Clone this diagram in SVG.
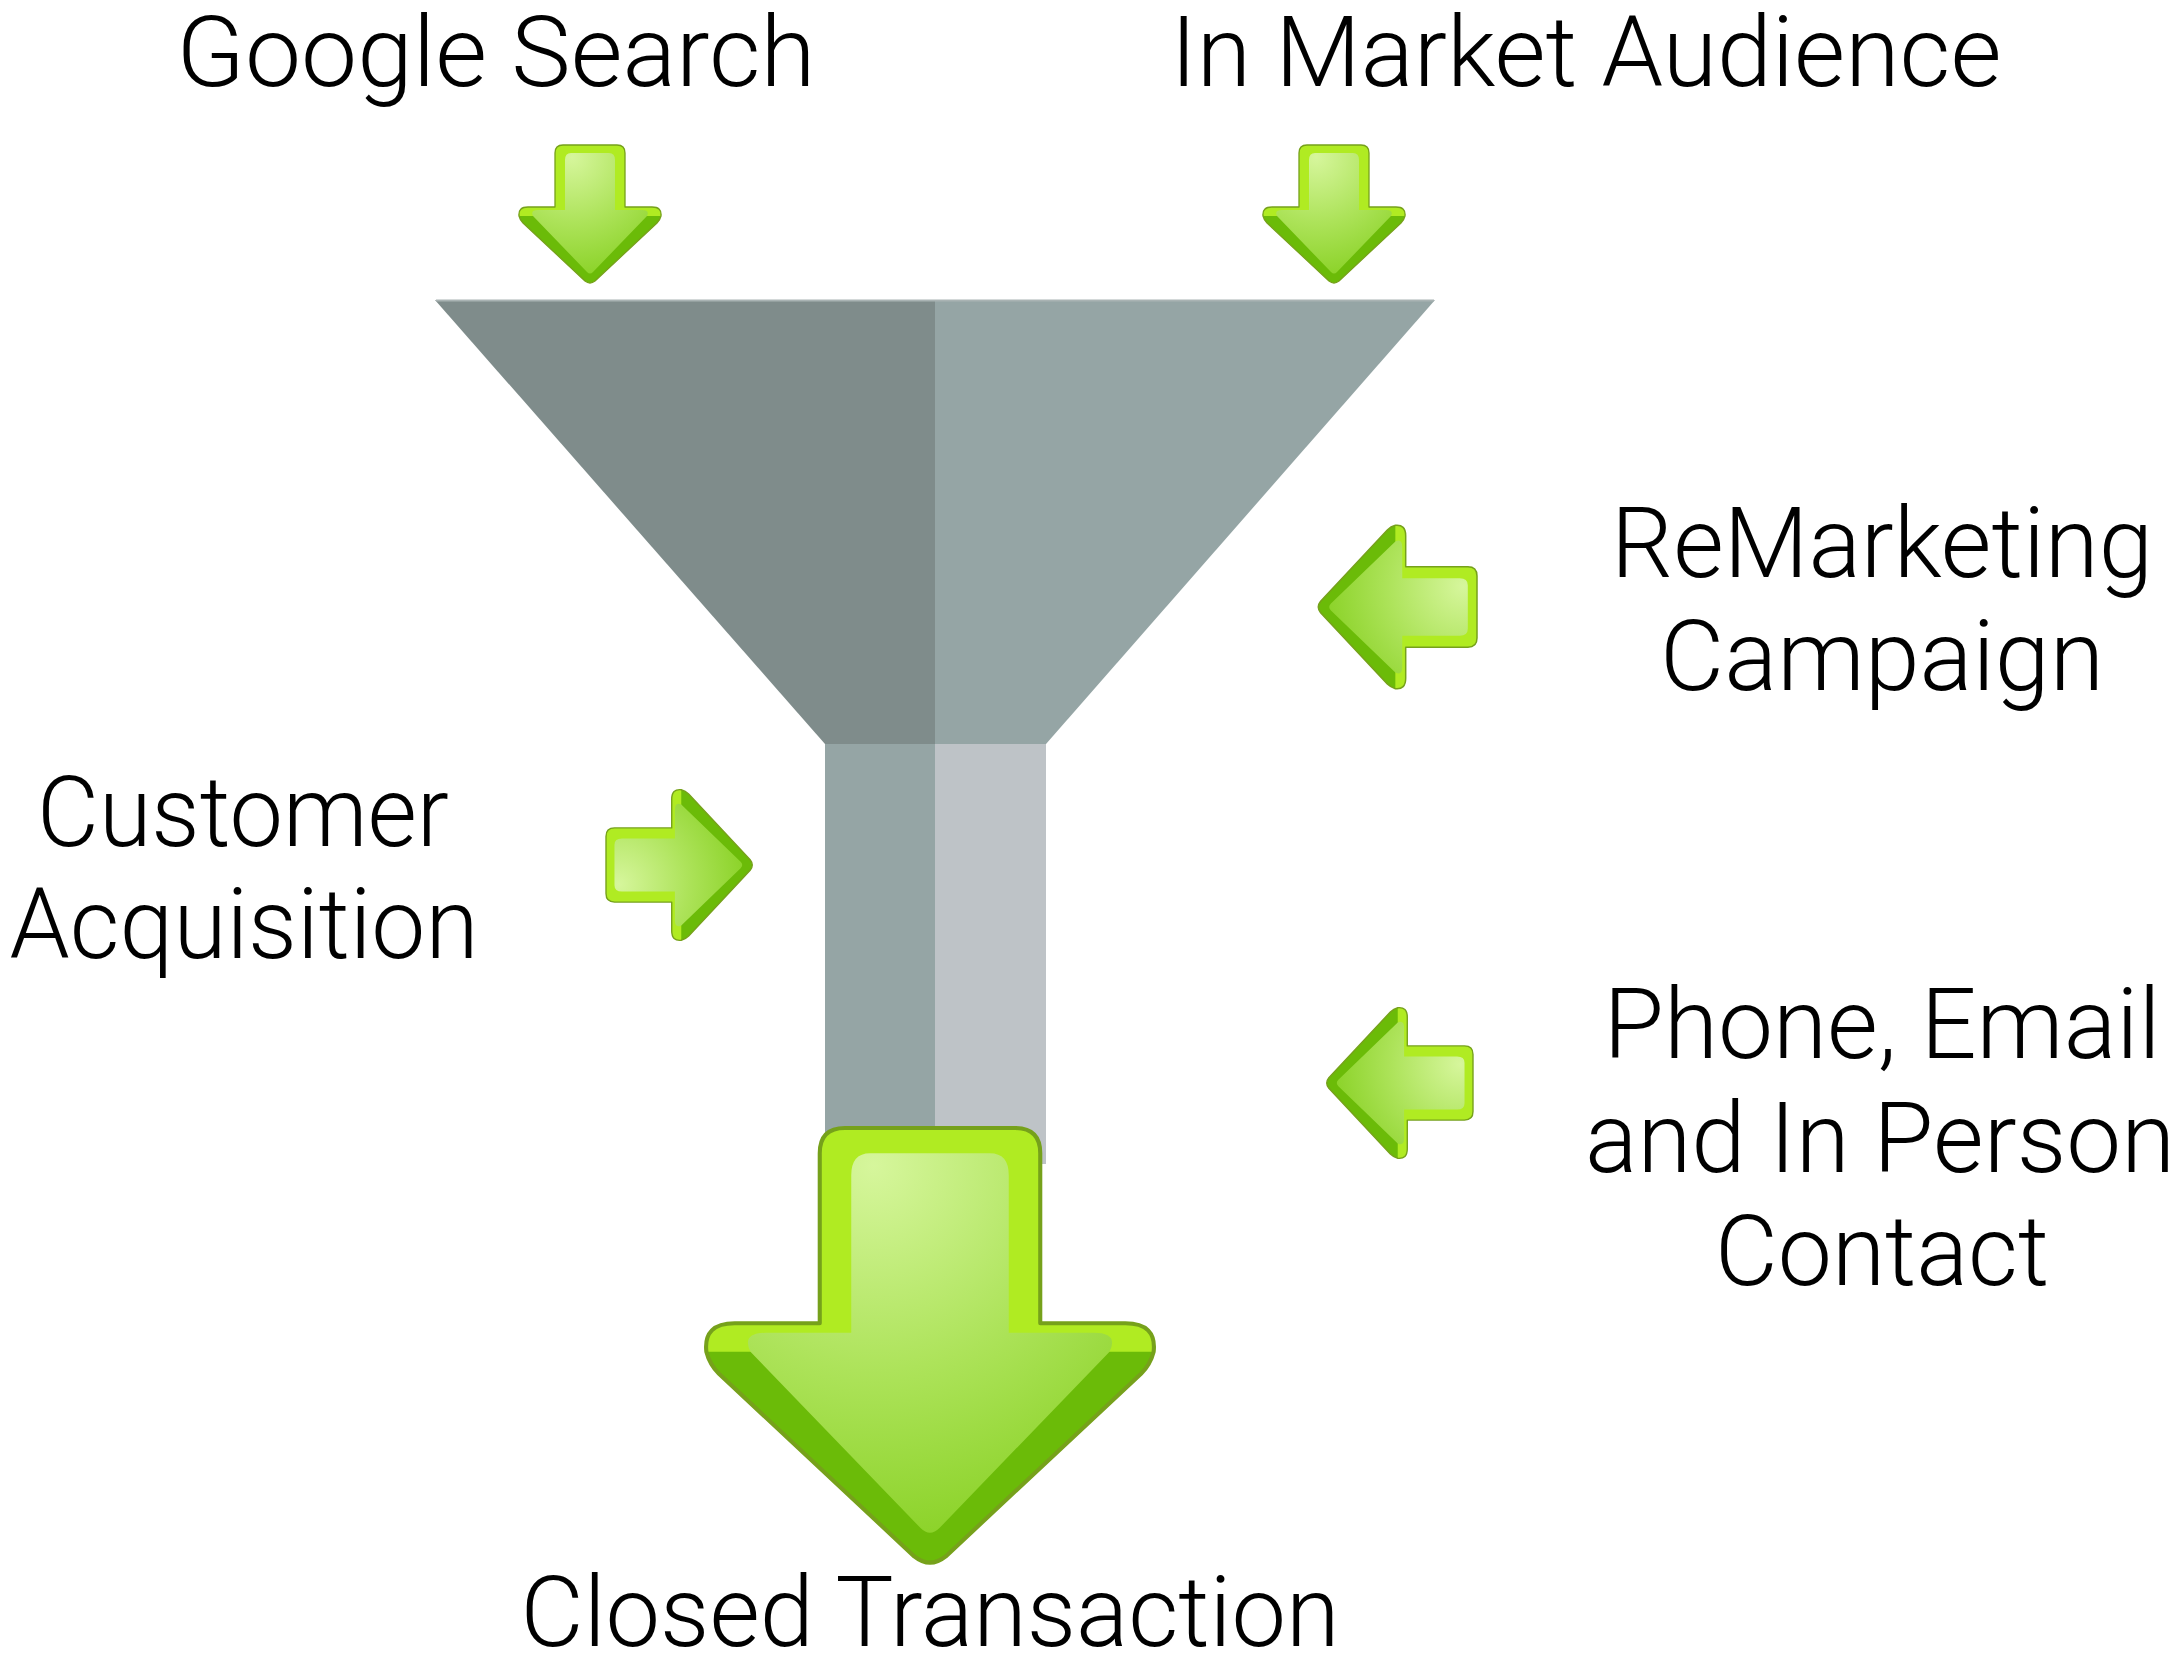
<svg xmlns="http://www.w3.org/2000/svg" xmlns:xlink="http://www.w3.org/1999/xlink" width="2178" height="1660" viewBox="0 0 2178 1660">
<style>
  .lbl { font-family: Roboto, "Liberation Sans", Arial, sans-serif; font-weight: 300; font-size: 98px; fill: #000; text-anchor: middle; }
  .outer-fill { fill: #6bbb08; }
  .lime { fill: #b0eb22; }
  .outer-line { fill: none; stroke: #76a11b; stroke-width: 1.3; stroke-linejoin: round; }
</style>
<defs>
  <radialGradient id="glow" gradientUnits="userSpaceOnUse" cx="-18" cy="12" r="145">
    <stop offset="0" stop-color="#d6f69c"/>
    <stop offset="0.45" stop-color="#ade35a"/>
    <stop offset="1" stop-color="#7ccb12"/>
  </radialGradient>
  <g id="arrowDown">
    <path class="outer-fill" d="M -27,0 H 27 Q 35,0 35,8 V 62 H 62 Q 72,62 71,71 Q 70,75 67,78 L 5,136 Q 0,140 -5,136 L -67,78 Q -70,75 -71,71 Q -72,62 -62,62 H -35 V 8 Q -35,0 -27,0 Z"/>
    <path class="lime" d="M -27,0 H 27 Q 35,0 35,8 V 62 H 62 Q 72,62 71,71 L -71,71 Q -72,62 -62,62 H -35 V 8 Q -35,0 -27,0 Z"/>
    <path fill="url(#glow)" d="M -19,8 H 19 Q 25,8 25,15 V 65 H 52 Q 60,65 57,71 L 3,127 Q 0,130 -3,127 L -57,71 Q -60,65 -52,65 H -25 V 15 Q -25,8 -19,8 Z"/>
    <path class="outer-line" d="M -27,0 H 27 Q 35,0 35,8 V 62 H 62 Q 72,62 71,71 Q 70,75 67,78 L 5,136 Q 0,140 -5,136 L -67,78 Q -70,75 -71,71 Q -72,62 -62,62 H -35 V 8 Q -35,0 -27,0 Z"/>
  </g>
</defs>
<rect width="2178" height="1660" fill="#ffffff"/>

<g id="funnel">
  <polygon points="435,300 935,300 935,744 825,744" fill="#7f8c8b"/>
  <polygon points="935,300 1435,300 1046,744 935,744" fill="#95a5a5"/>
  <rect x="825" y="744" width="110" height="420" fill="#95a5a5"/>
  <rect x="935" y="744" width="111" height="420" fill="#bec3c7"/>
  <line x1="436" y1="300.5" x2="1434" y2="300.5" stroke="#a9b3b3" stroke-width="2"/>
</g>

<g id="connectors">
  <use id="arrow-google" xlink:href="#arrowDown" transform="translate(590,145)"/>
  <use id="arrow-inmarket" xlink:href="#arrowDown" transform="translate(1334,145)"/>
  <use id="arrow-remarketing" xlink:href="#arrowDown" transform="translate(1477,607) rotate(90) scale(1.15)"/>
  <use id="arrow-customer" xlink:href="#arrowDown" transform="translate(606,865) rotate(-90) scale(1.06)"/>
  <use id="arrow-phone" xlink:href="#arrowDown" transform="translate(1473,1083) rotate(90) scale(1.06)"/>
  <use id="arrow-closed" xlink:href="#arrowDown" transform="translate(930,1128) scale(3.15)"/>
</g>

<g id="node-google-search">
  <text class="lbl" x="496" y="86" textLength="639" lengthAdjust="spacingAndGlyphs">Google Search</text>
</g>
<g id="node-in-market-audience">
  <text class="lbl" x="1586" y="86" textLength="831" lengthAdjust="spacingAndGlyphs">In Market Audience</text>
</g>
<g id="node-remarketing">
  <text class="lbl" x="1882" y="577" textLength="542" lengthAdjust="spacingAndGlyphs">ReMarketing</text>
  <text class="lbl" x="1882" y="690" textLength="444" lengthAdjust="spacingAndGlyphs">Campaign</text>
</g>
<g id="node-customer-acquisition">
  <text class="lbl" x="243" y="846" textLength="412" lengthAdjust="spacingAndGlyphs">Customer</text>
  <text class="lbl" x="244" y="958" textLength="469" lengthAdjust="spacingAndGlyphs">Acquisition</text>
</g>
<g id="node-phone-email">
  <text class="lbl" x="1882" y="1058" textLength="557" lengthAdjust="spacingAndGlyphs">Phone, Email</text>
  <text class="lbl" x="1880" y="1172" textLength="590" lengthAdjust="spacingAndGlyphs">and In Person</text>
  <text class="lbl" x="1882" y="1285" textLength="334" lengthAdjust="spacingAndGlyphs">Contact</text>
</g>
<g id="node-closed-transaction">
  <text class="lbl" x="930" y="1646" textLength="819" lengthAdjust="spacingAndGlyphs">Closed Transaction</text>
</g>
</svg>
